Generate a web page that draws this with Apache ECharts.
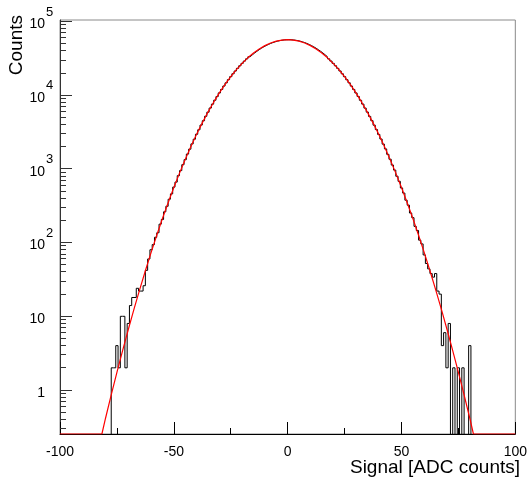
<!DOCTYPE html>
<html>
<head>
<meta charset="utf-8">
<script src="https://cdn.jsdelivr.net/npm/echarts@6/dist/echarts.min.js"></script>
<style>
html,body{margin:0;padding:0;background:#ffffff;}
#chart{width:530px;height:484px;}
</style>
</head>
<body>
<div id="chart"></div>
<script>
// ---------- data ----------
const histLowEdge = -77.5;   // left edge of first listed bin (bins centred on integers)
const binWidth = 1;
const histCounts = [
  2, 2, 4, 2, 10, 10, 2, 8, 14, 18, 18, 24, 22, 22, 26, 42,
  60, 80, 94, 118, 136, 178, 206, 262, 311, 388,
  458, 566, 662, 810, 948, 1142, 1336, 1590, 1852, 2184,
  2528, 2952, 3398, 3936, 4505, 5172, 5880, 6697, 7562, 8545,
  9583, 10744, 11963, 13310, 14716, 16247, 17836, 19542, 21299, 23162,
  25060, 27050, 29054, 31126, 33189, 35292, 37357, 39428, 41429, 43404,
  45272, 47079, 48745, 50316, 51714, 52988, 54060, 54982, 55682, 56215, 56511,
  56630, 56527, 56199, 55698, 54966, 54076, 52972, 51730, 50300, 48761,
  47063, 45288, 43388, 41445, 39412, 37373, 35276, 33205, 31110, 29070,
  27034, 25076, 23146, 21315, 19526, 17852, 16231, 14732, 13293, 11980,
  10727, 9599, 8529, 7578, 6681, 5896, 5156, 4521, 3920, 3415,
  2936, 2544, 2167, 1867, 1575, 1351, 1127, 964, 794, 678,
  551, 470, 376, 322, 252, 218, 166, 146, 108, 96,
  68, 52, 44, 38, 34, 38, 22, 20, 4, 6, 2, 8, 0, 2, 0, 2, 0, 2, 0, 0, 4
];

// red fit curve, read along its path (at the frame bottom where it leaves the range)
const fitX = [-100, -81.6, -80, -77.5, -75, -72.5, -70, -67.5, -65, -62.5, -60, -57.5, -55, -52.5, -50, -47.5, -45, -42.5,
  -40, -37.5, -35, -32.5, -30, -27.5, -25, -22.5, -20, -17.5, -15, -12.5, -10, -7.5, -5, -2.5, 0,
  2.5, 5, 7.5, 10, 12.5, 15, 17.5, 20, 22.5, 25, 27.5, 30, 32.5, 35, 37.5, 40,
  42.5, 45, 47.5, 50, 52.5, 55, 57.5, 60, 62.5, 65, 67.5, 70, 72.5, 75, 77.5, 80, 81.6, 100];
const fitY = [0.253, 0.253, 0.414, 0.858, 1.74, 3.43, 6.62, 12.5, 23.0, 41.5, 73.1, 126, 212, 348, 558, 876, 1343, 2012,
  2945, 4212, 5888, 8043, 10735, 14003, 17846, 22230, 27040, 32163, 37361, 42427, 47079, 51042, 54075, 55976, 56624,
  55976, 54075, 51042, 47079, 42427, 37361, 32163, 27040, 22230, 17846, 14003, 10735, 8043, 5888, 4212, 2945,
  2012, 1343, 876, 558, 348, 212, 126, 73.1, 41.5, 23.0, 12.5, 6.62, 3.43, 1.74, 0.858, 0.414, 0.253, 0.253];

const xMin = -100, xMax = 100, xStep = 50;
const yAxisMin = 0.253, yAxisMax = 104800;
const yMajorTicks = [1, 10, 100, 1000, 10000, 100000];
const yMajorBase = ['1', '10', '10', '10', '10', '10'];
const yMajorExp = ['', '', '2', '3', '4', '5'];
const yMinorTicks = [0.3, 0.4, 0.5, 0.6, 0.7, 0.8, 0.9,
  2, 3, 4, 5, 6, 7, 8, 9,
  20, 30, 40, 50, 60, 70, 80, 90,
  200, 300, 400, 500, 600, 700, 800, 900,
  2000, 3000, 4000, 5000, 6000, 7000, 8000, 9000,
  20000, 30000, 40000, 50000, 60000, 70000, 80000, 90000];
const xTitle = 'Signal [ADC counts]';
const yTitle = 'Counts';

// ---------- build series data ----------
const belowRange = 0.01; // empty bins drop below the frame bottom (clipped)
const histData = [[xMin, belowRange], [histLowEdge, belowRange]];
histCounts.forEach(function (c, i) {
  const lo = histLowEdge + i * binWidth;
  const hi = lo + binWidth;
  const v = c > 0 ? c : belowRange;
  histData.push([lo, v], [hi, v]);
});
histData.push([histLowEdge + histCounts.length * binWidth, belowRange], [xMax, belowRange]);

const fitData = fitX.map(function (x, i) { return [x, fitY[i]]; });

const FONT = '"Liberation Sans", Arial, Helvetica, sans-serif';

function tickRenderer(len) {
  return function (params, api) {
    const p = api.coord([xMin, api.value(1)]);
    const y = Math.round(p[1] - 0.5) + 0.5;
    return {
      type: 'line',
      shape: { x1: p[0], y1: y, x2: p[0] + len, y2: y },
      style: { stroke: '#333333', lineWidth: 1 }
    };
  };
}

const chart = echarts.init(document.getElementById('chart'), null, { renderer: 'canvas' });
chart.setOption({
  animation: false,
  backgroundColor: '#ffffff',
  grid: {
    left: 60, right: 10, top: 20, bottom: 50,
    show: true, borderColor: '#8a8a8a', borderWidth: 1, backgroundColor: 'transparent'
  },
  xAxis: {
    type: 'value', min: xMin, max: xMax, interval: xStep,
    axisLine: { onZero: false, lineStyle: { color: '#000000', width: 1 } },
    axisTick: { inside: true, length: 12, lineStyle: { color: '#000000' } },
    minorTick: { show: true, splitNumber: 2, length: 6, lineStyle: { color: '#000000' } },
    splitLine: { show: false },
    minorSplitLine: { show: false },
    axisLabel: { color: '#000000', fontSize: 14, fontFamily: FONT, margin: 11 }
  },
  yAxis: {
    type: 'log', logBase: 10, min: yAxisMin, max: yAxisMax,
    axisLine: { show: true, onZero: false, lineStyle: { color: '#333333', width: 1 } },
    axisTick: { show: false },
    axisLabel: { show: false },
    splitLine: { show: false }
  },
  graphic: [
    { type: 'text', x: 520, y: 468, style: { text: xTitle, align: 'right', verticalAlign: 'middle', font: '19px ' + FONT, fill: '#000000' } },
    { type: 'text', x: 17, y: 15, rotation: Math.PI / 2, style: { text: yTitle, align: 'right', verticalAlign: 'middle', font: '19px ' + FONT, fill: '#000000' } }
  ],
  series: [
    {
      name: 'hist', type: 'line', data: histData, symbol: 'none', clip: true,
      lineStyle: { color: '#000000', width: 1 }, z: 3, silent: true
    },
    {
      name: 'fit', type: 'line', data: fitData, symbol: 'none', clip: true, smooth: false,
      lineStyle: { color: '#ff0000', width: 1.2 }, z: 4, silent: true
    },
    {
      name: 'yMajorTicks', type: 'custom', coordinateSystem: 'cartesian2d', silent: true, z: 5,
      data: yMajorTicks.map(function (v) { return [xMin, v]; }),
      renderItem: tickRenderer(12)
    },
    {
      name: 'yMinorTicks', type: 'custom', coordinateSystem: 'cartesian2d', silent: true, z: 5,
      data: yMinorTicks.map(function (v) { return [xMin, v]; }),
      renderItem: tickRenderer(6)
    },
    {
      name: 'yLabels', type: 'custom', coordinateSystem: 'cartesian2d', silent: true, z: 5, clip: false,
      data: yMajorTicks.map(function (v) { return [xMin, v]; }),
      renderItem: function (params, api) {
        const i = params.dataIndex;
        const p = api.coord([xMin, api.value(1)]);
        const children = [{
          type: 'text',
          style: { text: yMajorBase[i], x: p[0] - 15, y: p[1] + 3, align: 'right', verticalAlign: 'middle', font: '14px ' + FONT, fill: '#000000' }
        }];
        if (yMajorExp[i]) {
          children.push({
            type: 'text',
            style: { text: yMajorExp[i], x: p[0] - 14, y: p[1] - 9.5, align: 'left', verticalAlign: 'middle', font: '13px ' + FONT, fill: '#000000' }
          });
        }
        return { type: 'group', children: children };
      }
    }
  ]
});
</script>
</body>
</html>
